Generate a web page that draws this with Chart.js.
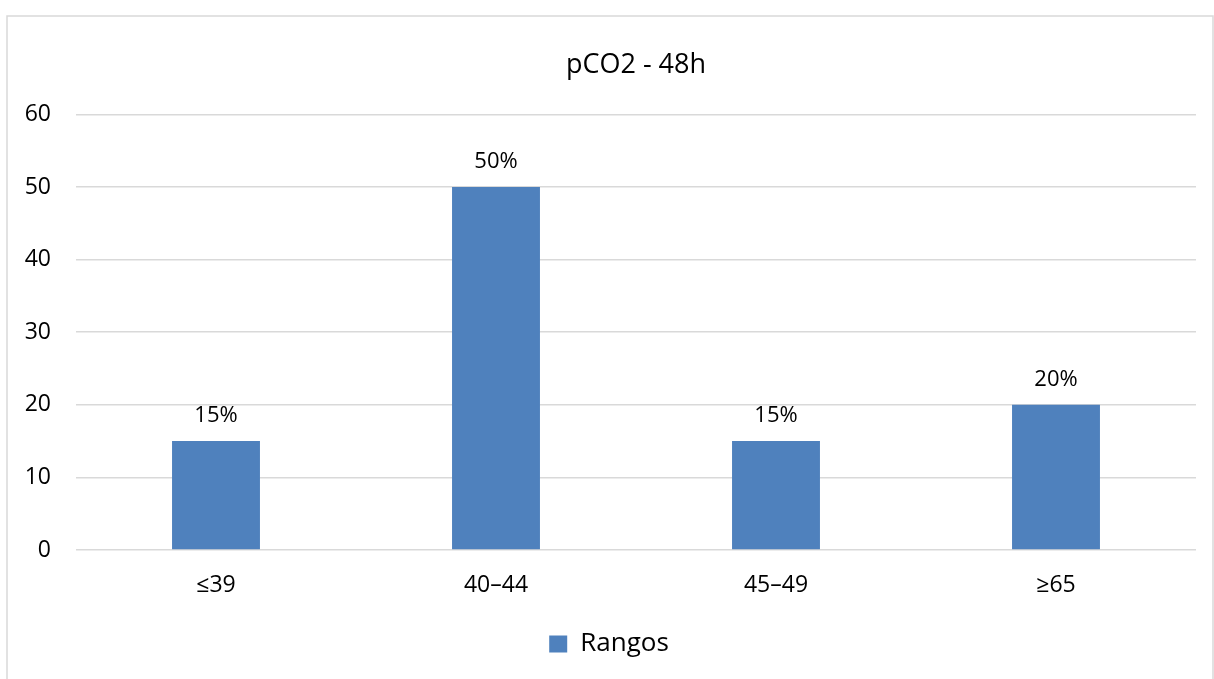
<!DOCTYPE html>
<html lang="es">
<head>
<meta charset="utf-8">
<title>pCO2 - 48h</title>
<script src="https://cdn.jsdelivr.net/npm/chart.js@4/dist/chart.umd.min.js"></script>
<style>
  html, body { margin: 0; padding: 0; background: #ffffff; }
  #wrap { width: 1214px; height: 679px; position: relative; }
</style>
</head>
<body>
<div id="wrap"><canvas id="chart" width="1214" height="679"></canvas></div>
<script>
// pCO2 ranges at 48 h and share of patients (%) in each
const categories = ['≤39', '40–44', '45–49', '≥65'];
const seriesName = 'Rangos';
const values = [15, 50, 15, 20];
const yTicks = [0, 10, 20, 30, 40, 50, 60];

const FONT = "'Open Sans', 'Noto Sans', sans-serif";
const BAR = '#4F81BD';
const GRID = '#D9D9D9';
const TEXT = '#000000';

// light frame around the whole chart
const framePlugin = {
  id: 'frame',
  beforeDraw(chart) {
    const ctx = chart.ctx;
    ctx.save();
    ctx.strokeStyle = GRID;
    ctx.lineWidth = 1.5;
    ctx.strokeRect(7, 16, 1206, 700);
    ctx.restore();
  }
};

// percentage labels above each bar
const valueLabels = {
  id: 'valueLabels',
  afterDatasetsDraw(chart) {
    const ctx = chart.ctx;
    const meta = chart.getDatasetMeta(0);
    ctx.save();
    ctx.font = '22px ' + FONT;
    ctx.fillStyle = TEXT;
    ctx.textAlign = 'center';
    ctx.textBaseline = 'middle';
    meta.data.forEach((bar, i) => {
      ctx.fillText(values[i] + '%', bar.x, bar.y - 25);
    });
    ctx.restore();
  }
};

new Chart(document.getElementById('chart'), {
  type: 'bar',
  data: {
    labels: categories,
    datasets: [{
      label: seriesName,
      data: values,
      backgroundColor: BAR,
      borderWidth: 0,
      categoryPercentage: 1,
      barPercentage: 0.314
    }]
  },
  options: {
    responsive: false,
    animation: false,
    devicePixelRatio: 1,
    layout: { padding: { left: 22, right: 18, top: 20, bottom: 12 } },
    plugins: {
      title: {
        display: true,
        text: 'pCO2 - 48h',
        fullSize: false,
        color: TEXT,
        font: { family: FONT, size: 27, weight: 'normal' },
        padding: { top: 29, bottom: 33 }
      },
      legend: {
        display: true,
        position: 'bottom',
        labels: {
          color: TEXT,
          font: { family: FONT, size: 26 },
          boxWidth: 18,
          boxHeight: 17,
          padding: 10
        }
      },
      tooltip: { enabled: false }
    },
    scales: {
      x: {
        grid: { display: false, drawTicks: false },
        border: { display: false },
        ticks: { color: TEXT, font: { family: FONT, size: 23 }, padding: 22 },
        afterFit(scale) { scale.height = 71; }
      },
      y: {
        min: 0,
        max: 60,
        afterBuildTicks(scale) { scale.ticks = yTicks.map(v => ({ value: v })); },
        grid: { color: GRID, lineWidth: 1.5, drawTicks: false },
        border: { display: false },
        ticks: { color: TEXT, font: { family: FONT, size: 23 }, padding: 25 },
        afterFit(scale) { scale.width = 54; }
      }
    }
  },
  plugins: [framePlugin, valueLabels]
});
</script>
</body>
</html>
